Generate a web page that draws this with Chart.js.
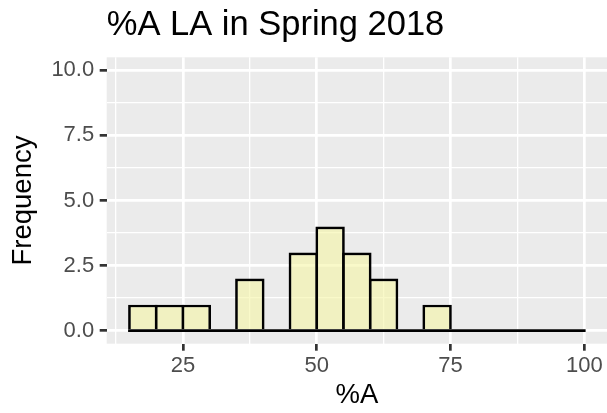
<!DOCTYPE html>
<html>
<head>
<meta charset="utf-8">
<script src="https://cdn.jsdelivr.net/npm/chart.js@4.4.1/dist/chart.umd.min.js"></script>
<style>
html,body{margin:0;padding:0;background:#ffffff;}
#wrap{width:607px;height:413px;}
</style>
</head>
<body>
<div id="wrap"><canvas id="c" width="607" height="413"></canvas></div>
<script>
// ---- data ----
const titleText = '%A LA in Spring 2018';
const xTitle = '%A';
const yTitle = 'Frequency';
const binStart = 15;
const binWidth = 5;
const counts = [1, 1, 1, 0, 2, 0, 3, 4, 3, 2, 0, 1, 0, 0, 0, 0, 0];
const xMajorTicks = [25, 50, 75, 100];
const xTickLabels = ['25', '50', '75', '100'];
const xMinorTicks = [12.5, 37.5, 62.5, 87.5];
const yMajorTicks = [0, 2.5, 5, 7.5, 10];
const yTickLabels = ['0.0', '2.5', '5.0', '7.5', '10.0'];
const yMinorTicks = [1.25, 3.75, 6.25, 8.75];
const yLimits = [0, 10];

// ---- derived ----
const binCenters = counts.map((c, i) => binStart + binWidth * (i + 0.5));
const binEnd = binStart + binWidth * counts.length;
const xPad = (binEnd - binStart) * 0.05;
const yPad = (yLimits[1] - yLimits[0]) * 0.05;
const FONT = "'Liberation Sans', Arial, Helvetica, sans-serif";
const BW = 2.7;

const barData = counts.map((c, i) => ({x: binCenters[i], y: c}));
const baseData = [{x: binStart, y: 0}, {x: binEnd, y: 0}];

const isMajorX = v => xMajorTicks.some(t => Math.abs(t - v) < 1e-9);
const isMajorY = v => yMajorTicks.some(t => Math.abs(t - v) < 1e-9);

const panelBg = {
  id: 'panelBg',
  beforeDraw(chart) {
    const {ctx, chartArea: a} = chart;
    ctx.save();
    ctx.fillStyle = '#EBEBEB';
    ctx.fillRect(a.left, a.top, a.right - a.left, a.bottom - a.top);
    ctx.restore();
  }
};

new Chart(document.getElementById('c'), {
  type: 'bar',
  data: {
    datasets: [
      {
        type: 'line',
        data: baseData,
        borderColor: '#000000',
        borderWidth: BW,
        borderCapStyle: 'square',
        pointRadius: 0,
        fill: false,
        order: 0
      },
      {
        type: 'bar',
        data: barData,
        backgroundColor: 'rgba(245,245,165,0.6)',
        borderColor: '#000000',
        borderWidth: BW,
        borderSkipped: 'start',
        barPercentage: 1.1,
        categoryPercentage: 1,
        inflateAmount: 0,
        order: 1
      }
    ]
  },
  options: {
    responsive: false,
    animation: false,
    devicePixelRatio: 1,
    layout: {padding: 0},
    plugins: {
      legend: {display: false},
      tooltip: {enabled: false},
      title: {
        display: true,
        text: titleText,
        align: 'start',
        fullSize: false,
        color: '#000000',
        font: {family: FONT, size: 34.5, weight: 'normal'},
        padding: {top: 4.3, bottom: 11.6}
      }
    },
    scales: {
      x: {
        type: 'linear',
        position: 'bottom',
        min: binStart - xPad,
        max: binEnd + xPad,
        offset: false,
        afterBuildTicks(s) {
          s.ticks = xMinorTicks.concat(xMajorTicks).sort((a, b) => a - b).map(v => ({value: v}));
        },
        afterFit(s) { s.height = 69.3; },
        ticks: {
          autoSkip: false,
          maxRotation: 0,
          padding: 1.6,
          color: '#4D4D4D',
          font: {family: FONT, size: 22},
          callback(v) {
            const i = xMajorTicks.findIndex(t => Math.abs(t - v) < 1e-9);
            return i >= 0 ? xTickLabels[i] : '';
          }
        },
        grid: {
          offset: false,
          color: '#FFFFFF',
          lineWidth: c => (c.tick && isMajorX(c.tick.value)) ? 2.7 : 1.3,
          tickLength: 7,
          tickWidth: 2.7,
          tickColor: c => (c.tick && isMajorX(c.tick.value)) ? '#333333' : 'rgba(0,0,0,0)'
        },
        border: {display: false},
        title: {
          display: true,
          text: xTitle,
          color: '#000000',
          font: {family: FONT, size: 27.5},
          padding: {top: 0, bottom: 0.6}
        }
      },
      y: {
        type: 'linear',
        position: 'left',
        min: yLimits[0] - yPad,
        max: yLimits[1] + yPad,
        afterBuildTicks(s) {
          s.ticks = yMinorTicks.concat(yMajorTicks).sort((a, b) => a - b).map(v => ({value: v}));
        },
        afterFit(s) { s.width = 106.7; },
        ticks: {
          autoSkip: false,
          padding: 5.5,
          color: '#4D4D4D',
          font: {family: FONT, size: 22},
          callback(v) {
            const i = yMajorTicks.findIndex(t => Math.abs(t - v) < 1e-9);
            return i >= 0 ? yTickLabels[i] : '';
          }
        },
        grid: {
          offset: false,
          color: '#FFFFFF',
          lineWidth: c => (c.tick && isMajorY(c.tick.value)) ? 2.7 : 1.3,
          tickLength: 7,
          tickWidth: 2.7,
          tickColor: c => (c.tick && isMajorY(c.tick.value)) ? '#333333' : 'rgba(0,0,0,0)'
        },
        border: {display: false},
        title: {
          display: true,
          text: yTitle,
          color: '#000000',
          font: {family: FONT, size: 27.5},
          padding: {top: 7, bottom: 0}
        }
      }
    }
  },
  plugins: [panelBg]
});
</script>
</body>
</html>
